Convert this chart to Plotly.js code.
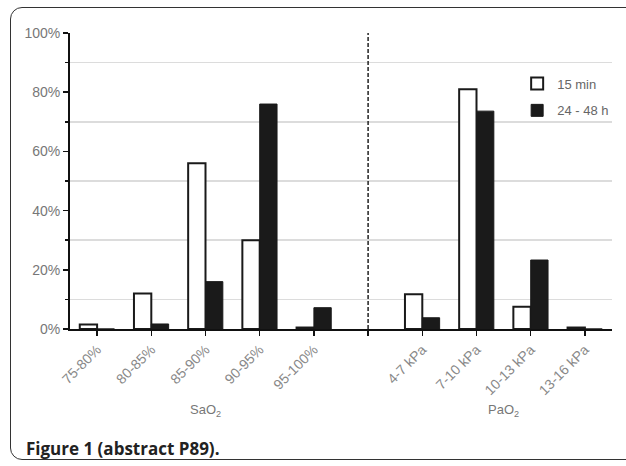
<!DOCTYPE html>
<html>
<head>
<meta charset="utf-8">
<script src="https://cdn.plot.ly/plotly-3.0.1.min.js"></script>
<style>
html,body{margin:0;padding:0;width:626px;height:466px;overflow:hidden;background:#fff;}
#frame{position:absolute;left:10px;top:7px;width:640px;height:453px;border:1.3px solid #333;border-radius:12px 0 0 12px;box-sizing:border-box;}
#cap{position:absolute;left:26px;top:437px;font-family:"Open Sans",sans-serif;font-weight:bold;font-size:17px;color:#222;}
#chart{position:absolute;left:0;top:0;width:626px;height:466px;}
</style>
</head>
<body>
<div id="frame"></div>
<div id="chart"></div>
<div id="cap">Figure 1 (abstract P89).</div>
<script>
// Categories (slot 5 is the divider between SaO2 and PaO2 groups)
const categories = ["75-80%", "80-85%", "85-90%", "90-95%", "95-100%", "4-7 kPa", "7-10 kPa", "10-13 kPa", "13-16 kPa"];
const positions = [0, 1, 2, 3, 4, 6, 7, 8, 9];
const min15 = [1.5, 12, 56, 30, 0.5, 11.7, 81, 7.5, 0.5];
const h2448 = [0, 1.7, 16, 76, 7.2, 3.8, 73.6, 23.3, 0];
const yTickVals = [0, 20, 40, 60, 80, 100];
const yTickText = ["0%", "20%", "40%", "60%", "80%", "100%"];
const dividerPos = 5;

const FONT = "Liberation Sans";

const traces = [
  {type: "bar", name: "15 min", x: positions, y: min15, legendgroup: "a",
   marker: {color: "#ffffff", line: {color: "#1a1a1a", width: 2}}},
  {type: "bar", name: "24 - 48 h", x: positions, y: h2448, legendgroup: "b",
   marker: {color: "#1a1a1a", line: {color: "#1a1a1a", width: 1}}}
];

const layout = {
  width: 626, height: 466,
  margin: {l: 70, r: 14, t: 33, b: 137},
  paper_bgcolor: "rgba(0,0,0,0)", plot_bgcolor: "rgba(0,0,0,0)",
  barmode: "group", bargap: 0.36, bargroupgap: 0,
  font: {family: FONT, color: "#777", size: 13},
  xaxis: {
    range: [-0.5, 9.5], tickmode: "array", tickvals: positions, ticktext: categories,
    tickangle: -45, ticks: "outside", ticklen: 5, tickwidth: 1.5, tickcolor: "#111",
    showline: true, linecolor: "#111", linewidth: 2, showgrid: false, zeroline: false,
    tickfont: {family: FONT, size: 14, color: "#888"}, fixedrange: true,
    minor: {tick0: dividerPos, dtick: 10, ticks: "outside", ticklen: 5, tickwidth: 1.5, tickcolor: "#111", showgrid: false}
  },
  yaxis: {
    range: [0, 100], tickmode: "array", tickvals: yTickVals, ticktext: yTickText,
    ticks: "outside", ticklen: 5, tickwidth: 1.5, tickcolor: "#111",
    showline: true, linecolor: "#111", linewidth: 2, showgrid: false, zeroline: false,
    tickfont: {family: FONT, size: 14, color: "#777"},
    minor: {tick0: 10, dtick: 20, ticks: "outside", ticklen: 3, tickwidth: 1.5, tickcolor: "#111",
            showgrid: true, gridcolor: "#dcdcdc", gridwidth: 1.5}
  },
  legend: {x: 0.825, y: 0.88, xanchor: "left", yanchor: "top", bgcolor: "rgba(0,0,0,0)",
           font: {family: FONT, size: 13, color: "#666"}, traceorder: "grouped", tracegroupgap: 7},
  shapes: [
    {type: "line", xref: "x", yref: "paper", x0: dividerPos, x1: dividerPos, y0: 0, y1: 1,
     line: {color: "#222", width: 1.5, dash: "4px,2px"}}
  ],
  annotations: [
    {xref: "x", yref: "paper", x: 2, y: -0.275, yanchor: "middle", showarrow: false,
     text: "SaO<sub>2</sub>", font: {family: FONT, size: 13, color: "#777"}},
    {xref: "x", yref: "paper", x: 7.5, y: -0.275, yanchor: "middle", showarrow: false,
     text: "PaO<sub>2</sub>", font: {family: FONT, size: 13, color: "#777"}}
  ]
};

Plotly.newPlot("chart", traces, layout, {displayModeBar: false, staticPlot: true});
</script>
</body>
</html>
